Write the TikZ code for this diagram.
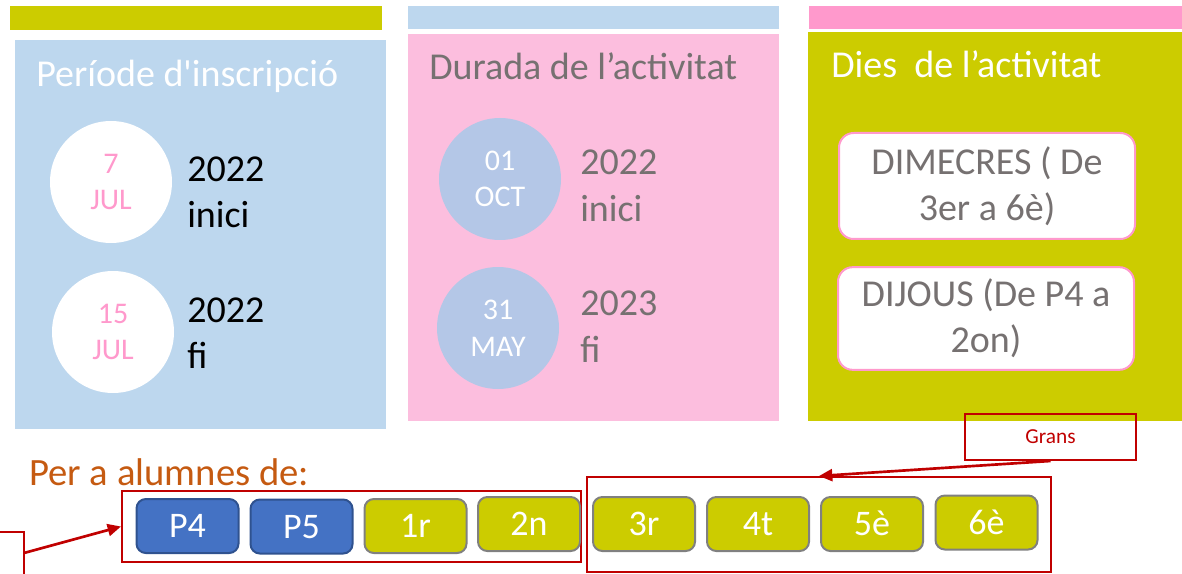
\documentclass[tikz,border=0pt]{standalone}
\usepackage{fontspec}
\setmainfont{Carlito}
\usetikzlibrary{arrows.meta}
\definecolor{ygreen}{RGB}{204,204,0}
\definecolor{lblue}{RGB}{189,215,238}
\definecolor{lpink}{RGB}{252,190,222}
\definecolor{hpink}{RGB}{255,153,204}
\definecolor{cblue}{RGB}{180,199,231}
\definecolor{tgray}{RGB}{118,113,113}
\definecolor{pblue}{RGB}{68,114,196}
\definecolor{pbord}{RGB}{47,82,143}
\definecolor{gbord}{RGB}{128,128,128}
\definecolor{dred}{RGB}{192,0,0}
\definecolor{orng}{RGB}{197,90,17}
\tikzset{
  title/.style={anchor=base west, inner sep=0pt, font=\fontsize{28.5}{34.5}\selectfont},
  year/.style={anchor=base west, inner sep=0pt, font=\fontsize{28.5}{34.5}\selectfont},
  datec/.style={circle, minimum size=91.5pt, inner sep=0pt, align=center, font=\fontsize{22.5}{27.5}\selectfont},
  daybox/.style={rounded corners=11pt, fill=white, draw=hpink, line width=1.5pt, minimum width=222pt, minimum height=78pt, align=center, inner sep=0pt, text=tgray, font=\fontsize{28.5}{34.5}\selectfont},
  grade/.style={rounded corners=7pt, line width=1.5pt, minimum width=76.5pt, minimum height=40.5pt, inner sep=0pt, text height=17.4pt, text depth=0pt, text=white, font=\fontsize{27}{30}\selectfont},
  pgrade/.style={grade, fill=pblue, draw=pbord},
  ygrade/.style={grade, fill=ygreen, draw=gbord},
  group/.style={draw=dred, line width=1.5pt, inner sep=0pt},
  link/.style={draw=dred, line width=2pt, -{Triangle[length=10pt,width=9pt]}}
}
\begin{document}
\begin{tikzpicture}[x=0.75pt,y=-0.75pt]
\useasboundingbox (0,0) rectangle (1182,574);
% panels
\fill[ygreen] (10,6) rectangle (382,30);
\fill[lblue] (15,40) rectangle (386,429);
\fill[lblue] (408,6) rectangle (779,29);
\fill[lpink] (408,34) rectangle (779,421);
\fill[hpink] (809,6) rectangle (1182,29);
\fill[ygreen] (808,32) rectangle (1182,421);
% titles
\node[title, text=white] (t1) at (36,87) {Període d\textquotesingle inscripció};
\node[title, text=tgray] (t2) at (429,80) {Durada de l’activitat};
\node[title, text=white] (t3) at (831,78) {Dies\ \ de l’activitat};
% date circles
\node[datec, fill=white, text=hpink] (c1) at (111,182) {7\\JUL};
\node[datec, fill=white, text=hpink] (c2) at (113,332) {15\\JUL};
\node[datec, fill=cblue, text=white] (c3) at (500,179) {01\\OCT};
\node[datec, fill=cblue, text=white] (c4) at (498,328) {31\\MAY};
% years
\node[year] (y1a) at (187,182) {2022};
\node[year] (y1b) at (187,228) {inici};
\node[year] (y2a) at (187,322) {2022};
\node[year] (y2b) at (187,368) {fi};
\node[year, text=tgray] (y3a) at (580,175) {2022};
\node[year, text=tgray] (y3b) at (580,222) {inici};
\node[year, text=tgray] (y4a) at (580,315) {2023};
\node[year, text=tgray] (y4b) at (580,362) {fi};
% day boxes
\node[daybox, minimum height=79.5pt] (d1) at (987,186) {DIMECRES ( De\\3er a 6è)};
\node[daybox, minimum height=77pt] (d2) at (986,318.5) {DIJOUS (De P4 a\\2on)};
% bottom
\node[anchor=base west, inner sep=0pt, text=orng, font=\fontsize{29}{34}\selectfont] (per) at (29,485) {Per a alumnes de:};
\node[group, minimum width=344.25pt, minimum height=53.25pt] (g1) at (351.5,526.5) {};
\node[group, minimum width=348pt, minimum height=71.25pt] (g2) at (819,524.5) {};
\node[group, minimum width=128.25pt, minimum height=34.5pt, text=dred, font=\fontsize{16}{18}\selectfont] (grans) at (1050.5,437) {Grans};
\node[pgrade] (p4) at (187.5,526) {P4};
\node[pgrade] (p5) at (301.5,526.5) {P5};
\node[ygrade] (g1r) at (415.5,526) {1r};
\node[ygrade] (g2n) at (529,524) {2n};
\node[ygrade] (g3r) at (644,524) {3r};
\node[ygrade] (g4t) at (758,524) {4t};
\node[ygrade] (g5e) at (872,524) {5è};
\node[ygrade] (g6e) at (986.5,522.5) {6è};
% connectors
\draw[link] (grans.south) -- (g2.north);
\coordinate (lcorner) at (24,532);
\coordinate (ltop) at (0,532);
\coordinate (lbot) at (24,574);
\coordinate (lstart) at (24,553);
\draw[dred, line width=1.5pt] (ltop) -- (lcorner) -- (lbot);
\draw[link] (lstart) -- (g1.west);
\end{tikzpicture}
\end{document}
